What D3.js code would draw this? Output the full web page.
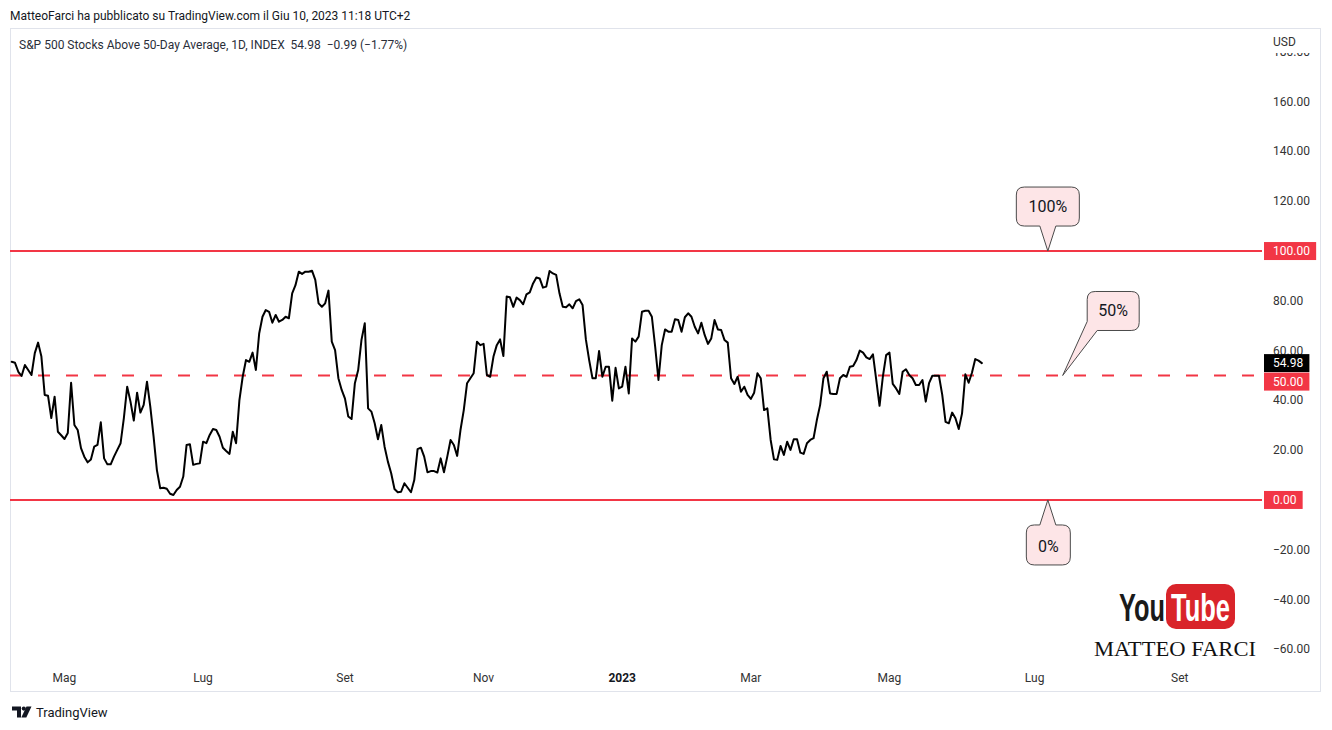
<!DOCTYPE html>
<html><head><meta charset="utf-8">
<script src="https://cdn.jsdelivr.net/npm/d3@7"></script>
<style>
body{margin:0;background:#fff}
svg{display:block}
svg{font-family:Roboto,"Noto Sans",sans-serif}
</style>
</head><body>
<svg id="chart" width="1332" height="730"></svg>
<script>
// ---------- DATA ----------
const values = [
55.5,55.1,51.5,49.8,54.2,52.2,50.2,59,63.2,57.6,
42.2,41.9,32.9,41.5,27.4,26,24.5,26.9,47.1,30.1,
28.1,20.8,17.4,15.1,16.3,21.4,22.1,31.2,16.7,14.3,
14.3,17.4,20.1,22.8,33,45.5,39.5,31.9,43.1,35.1,
38.2,47.5,37.5,25.4,12,4.7,4.9,4.5,2.5,2,
4,5.3,9.4,22.1,22.4,14.1,14.5,14.7,23.4,22.8,
26.1,28.5,28.1,25.4,21,19.7,18.5,27.4,22.8,40,
49.5,56.2,55.5,59.2,52.2,66.9,73.6,76.3,75.6,71.2,
74.3,71.6,72.3,73.6,73,83,86.3,91.7,90.8,91.7,
91.7,92.1,88.4,79,77.6,79,84.1,
63.6,60.2,48.9,44.2,40.7,33.5,32.5,46.9,52.2,64.3,
71,36.8,35.5,30.8,24.4,30.1,21.4,15.4,10.7,4.4,
3.1,3.3,6.7,4.9,3.1,8,20.4,21,17.4,11.1,
11.6,11.6,11,16.7,11.1,17.4,24.1,22.1,17.7,28.1,
36.1,46.9,48.9,50.9,63.6,62.2,62.7,50.2,49.5,57.6,
62.2,64.5,57.8,81.7,81.4,77.6,81.3,80.3,78.6,82.6,
83.4,87,89.4,89,85.3,85.7,92,91,90.4,83,
77.6,77.4,78.6,77,79.9,80.6,78.3,64.5,56.2,48.9,
48.9,59.8,49.5,53.5,53.5,39.9,53.1,44.8,45.5,53.5,
42.8,64.9,63.6,65.6,75.6,
76,76,73.6,61.6,48.2,62.2,68.5,67.6,67.6,72.6,
72.3,67.6,73.4,75,73.6,69.6,66.9,71.2,66.3,62.7,
64.9,72.3,68.5,68.3,64.3,63.2,48.9,46.6,49.5,43.5,
45.5,42.2,40.6,43.1,50.9,48.9,36.1,36.8,24.1,16.3,
16.1,21.7,18.1,23.4,20.1,24.4,24.4,19,18.5,22.8,
24.1,24.8,32.1,38.2,48.9,51.5,42.8,42.6,42.6,48.9,
50.2,49.5,53.5,53.8,56.2,60,59.2,57.3,56.6,58.5,
48.2,37.8,49.5,58.2,59.2,46.6,44.8,42.6,51.5,52.5,
50.2,48.9,46.2,46.2,48.2,39.5,46.9,49.9,49.9,49.9,
42.2,31.4,30.8,35.1,32.8,28.5,34.8,50.5,47.1,51.1,
56.6,55.97,54.98
];
const timeTickLabels = ["Mag","Lug","Set","Nov","2023","Mar","Mag","Lug","Set"];
const timeTickBars   = [16,58,101,143,185,224,266,310,354];
const timeTickBold   = [false,false,false,false,true,false,false,false,false];
const priceTicks = [-60,-40,-20,0,20,40,60,80,100,120,140,160,180];
const levelValues = [100,50,0];
const levelDashed = [false,true,false];
const calloutLabels = ["100%","50%","0%"];
const calloutValues = [100,50,0];
const calloutBars = [314,318.5,314];
const totalBars = 378.9;          // visible bar slots incl. future space
const priceMin = -65.5, priceMax = 188.8;
const lastValue = 54.98, lastChange = -0.99, lastPct = -1.77;
const headerText = "MatteoFarci ha pubblicato su TradingView.com il Giu 10, 2023 11:18 UTC+2";
const seriesTitle = "S&P 500 Stocks Above 50-Day Average, 1D, INDEX";

// ---------- LAYOUT ----------
const plot = {left: 11.7, right: 1262, top: 30, bottom: 663};
const RED = "#f23645";
const svg = d3.select("#chart");
const fmt = v => (v < 0 ? "\u2212" : "") + Math.abs(v).toFixed(2);

const x = d3.scaleLinear().domain([0, totalBars]).range([plot.left, plot.right]);
const y = d3.scaleLinear().domain([priceMin, priceMax]).range([plot.bottom, plot.top]);

// header
svg.append("text").attr("x", 10).attr("y", 16).attr("dominant-baseline","central")
  .attr("font-size", 12).attr("fill", "#131722").text(headerText);

// frame
svg.append("rect").attr("x", 10.5).attr("y", 28.5).attr("width", 1310).attr("height", 663)
  .attr("fill", "none").attr("stroke", "#e0e3eb").attr("stroke-width", 1);

// legend
svg.append("text").attr("x", 19).attr("y", 45).attr("dominant-baseline","central")
  .attr("font-size", 12).attr("fill", "#2a2e39")
  .text(seriesTitle + "\u00a0\u00a0" + lastValue.toFixed(2) + "\u00a0\u00a0" +
        "\u2212" + Math.abs(lastChange).toFixed(2) + " (\u2212" + Math.abs(lastPct).toFixed(2) + "%)");

// clip for plot
const defs = svg.append("defs");
defs.append("clipPath").attr("id","plotClip").append("rect")
  .attr("x", 10).attr("y", plot.top).attr("width", plot.right - 10).attr("height", plot.bottom - plot.top);
defs.append("clipPath").attr("id","axisClip").append("rect")
  .attr("x", plot.right).attr("y", 53).attr("width", 70).attr("height", 640);

// level lines
const gLevels = svg.append("g").attr("clip-path","url(#plotClip)");
levelValues.forEach((v,i) => {
  gLevels.append("line").attr("x1", 10).attr("x2", plot.right)
    .attr("y1", y(v)).attr("y2", y(v))
    .attr("stroke", RED).attr("stroke-width", 2)
    .attr("stroke-dasharray", levelDashed[i] ? "12,16" : null);
});

// series line
const line = d3.line().x((d,i) => x(i)).y(d => y(d)).curve(d3.curveLinear);
svg.append("g").attr("clip-path","url(#plotClip)")
  .append("path").datum(values).attr("d", line)
  .attr("fill","none").attr("stroke","#000").attr("stroke-width",2)
  .attr("stroke-linejoin","round").attr("stroke-linecap","round");

// price axis labels
const gAxis = svg.append("g").attr("clip-path","url(#axisClip)");
priceTicks.filter(v => !levelValues.includes(v)).forEach(v => {
  gAxis.append("text").attr("x", 1273).attr("y", y(v)).attr("dominant-baseline","central")
    .attr("font-size", 12).attr("fill", "#333").text(fmt(v));
});
svg.append("text").attr("x", 1273).attr("y", 42).attr("dominant-baseline","central")
  .attr("font-size", 12).attr("fill", "#333").text("USD");

// value boxes
function valueBox(cy, label, fill) {
  const g = svg.append("g");
  const t = g.append("text").attr("x", 1273).attr("y", cy).attr("dominant-baseline","central")
    .attr("font-size", 12).attr("fill", "#fff").text(label);
  const bb = t.node().getBBox();
  g.insert("rect","text").attr("x", 1264).attr("y", cy - 9)
    .attr("width", bb.x + bb.width + 6 - 1264).attr("height", 18).attr("fill", fill);
}
const lastY = y(lastValue);
valueBox(lastY, lastValue.toFixed(2), "#000");
levelValues.forEach(v => {
  let cy = y(v);
  if (Math.abs(cy - lastY) < 18) cy = lastY + 18.5;
  valueBox(cy, fmt(v), RED);
});

// time axis
timeTickBars.forEach((b,i) => {
  svg.append("text").attr("x", x(b)).attr("y", 678).attr("dominant-baseline","central")
    .attr("text-anchor","middle").attr("font-size", 12)
    .attr("font-weight", timeTickBold[i] ? "bold" : "normal")
    .attr("fill", timeTickBold[i] ? "#131722" : "#333").text(timeTickLabels[i]);
});

// callouts
function roundBoxPath(x0,y0,x1,y1,r,ptr){
  let p = `M${x0+r},${y0}`;
  if (ptr.side === 'top') p += `H${ptr.a}L${ptr.tx},${ptr.ty}L${ptr.b},${y0}`;
  p += `H${x1-r}Q${x1},${y0} ${x1},${y0+r}V${y1-r}Q${x1},${y1} ${x1-r},${y1}`;
  if (ptr.side === 'bottom') {
    p += `H${ptr.b}L${ptr.tx},${ptr.ty}L${ptr.a},${y1}H${x0+r}Q${x0},${y1} ${x0},${y1-r}`;
  } else if (ptr.side === 'bl') {
    p += `H${x0+10}L${ptr.tx},${ptr.ty}L${x0},${y1-9}`;
  } else {
    p += `H${x0+r}Q${x0},${y1} ${x0},${y1-r}`;
  }
  p += `V${y0+r}Q${x0},${y0} ${x0+r},${y0}Z`;
  return p;
}
const calloutGeom = [
  {dx0:-31.5, w:63, dy0:-64, h:39, side:'bottom'},
  {dx0: 24.5, w:52, dy0:-84, h:39, side:'bl'},
  {dx0:-21.5, w:44, dy0: 25, h:40, side:'top'}
];
calloutLabels.forEach((lab,i) => {
  const tx = x(calloutBars[i]), ty = y(calloutValues[i]);
  const g = calloutGeom[i];
  const x0 = tx + g.dx0, y0 = ty + g.dy0, x1 = x0 + g.w, y1 = y0 + g.h;
  const d = roundBoxPath(x0,y0,x1,y1,8,{side:g.side, a:tx-8, b:tx+8, tx:tx, ty:ty});
  svg.append("path").attr("d", d).attr("fill","#fde5e7").attr("stroke","#4a4a4a").attr("stroke-width",1);
  svg.append("text").attr("x", (x0+x1)/2).attr("y", (y0+y1)/2 + (g.side==='top'?2:0))
    .attr("text-anchor","middle").attr("dominant-baseline","central")
    .attr("font-size", 16).attr("fill","#131722").text(lab);
});

// YouTube watermark
const yt = svg.append("g");
yt.append("text").attr("x", 1119).attr("y", 621)
  .style("font-family","'Liberation Sans Narrow','Liberation Sans',sans-serif")
  .attr("font-weight","bold").attr("font-size", 38).attr("textLength", 46).attr("lengthAdjust","spacingAndGlyphs")
  .attr("fill","#1a1a1a").text("You");
yt.append("rect").attr("x", 1166).attr("y", 584).attr("width", 69).attr("height", 45).attr("rx", 10)
  .attr("fill", "#d9242a");
yt.append("text").attr("x", 1171).attr("y", 621)
  .style("font-family","'Liberation Sans Narrow','Liberation Sans',sans-serif")
  .attr("font-weight","bold").attr("font-size", 38).attr("textLength", 59).attr("lengthAdjust","spacingAndGlyphs")
  .attr("fill","#fff").text("Tube");
yt.append("text").attr("x", 1175).attr("y", 656).attr("text-anchor","middle")
  .style("font-family","'Liberation Serif','DejaVu Serif',serif").attr("font-size", 22)
  .attr("textLength", 162).attr("lengthAdjust","spacingAndGlyphs")
  .attr("fill","#111").text("MATTEO FARCI");

// TradingView footer logo
const lg = svg.append("g").attr("fill","#131722");
lg.append("path").attr("d","M12,706.5h9v11h-4v-7h-5z");
lg.append("circle").attr("cx",23.8).attr("cy",708.6).attr("r",2.1);
lg.append("path").attr("d","M26.5,706.5h5l-5.2,11h-5z");
svg.append("text").attr("x", 36).attr("y", 712).attr("dominant-baseline","central")
  .attr("font-size", 13).attr("fill","#131722").text("TradingView");
</script>
</body></html>
